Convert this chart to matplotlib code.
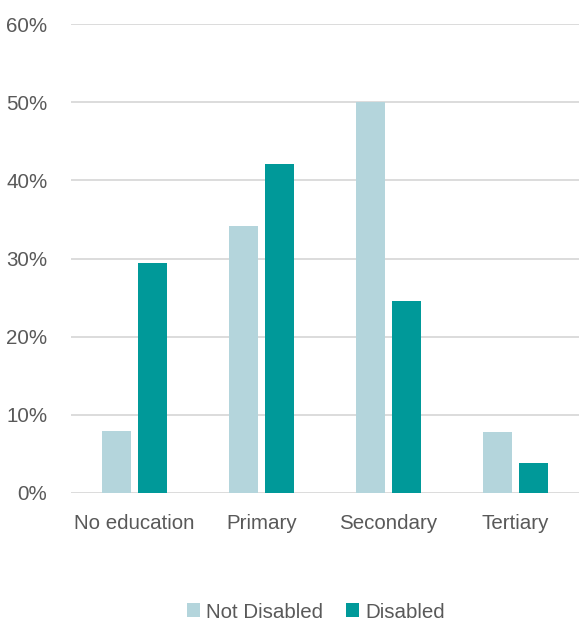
import matplotlib
matplotlib.use("Agg")
import matplotlib.pyplot as plt
import numpy as np
from matplotlib.ticker import FuncFormatter

categories = ["No education", "Primary", "Secondary", "Tertiary"]
not_disabled = [7.9, 34.2, 50.0, 7.8]
disabled = [29.4, 42.1, 24.6, 3.8]
series_names = ["Not Disabled", "Disabled"]
colors = ["#B4D5DC", "#009999"]

plt.rcParams['font.family'] = ['Liberation Sans', 'DejaVu Sans']
fs = 14.8

fig = plt.figure(figsize=(5.79, 6.23), dpi=100)
ax = fig.add_axes([71/579, 1 - 493/623, (579 - 71)/579, (493 - 24)/623])

x = np.arange(len(categories))
w = 0.228
ax.bar(x - 0.142, not_disabled, width=w, color=colors[0], label=series_names[0], zorder=3)
ax.bar(x + 0.142, disabled, width=w, color=colors[1], label=series_names[1], zorder=3)

ax.set_xlim(-0.5, len(categories) - 0.5)
ax.set_ylim(0, 60)
ax.set_yticks(np.arange(0, 61, 10))
ax.yaxis.set_major_formatter(FuncFormatter(lambda v, p: f"{int(v)}%"))
ax.set_xticks(x)
ax.set_xticklabels(categories)
ax.grid(axis='y', color='#D9D9D9', linewidth=1.3, zorder=0)
for s in ax.spines.values():
    s.set_visible(False)
ax.tick_params(axis='both', length=0, labelsize=fs, colors='#595959')
ax.tick_params(axis='x', pad=15)
ax.tick_params(axis='y', pad=17)

fig.legend(loc='center', bbox_to_anchor=(316/579, 1 - 612/623), ncol=2, frameon=False,
           fontsize=fs, labelcolor='#595959', handlelength=0.65, handleheight=0.65,
           handletextpad=0.3, columnspacing=1.1)

fig.savefig("out.png", dpi=100)
